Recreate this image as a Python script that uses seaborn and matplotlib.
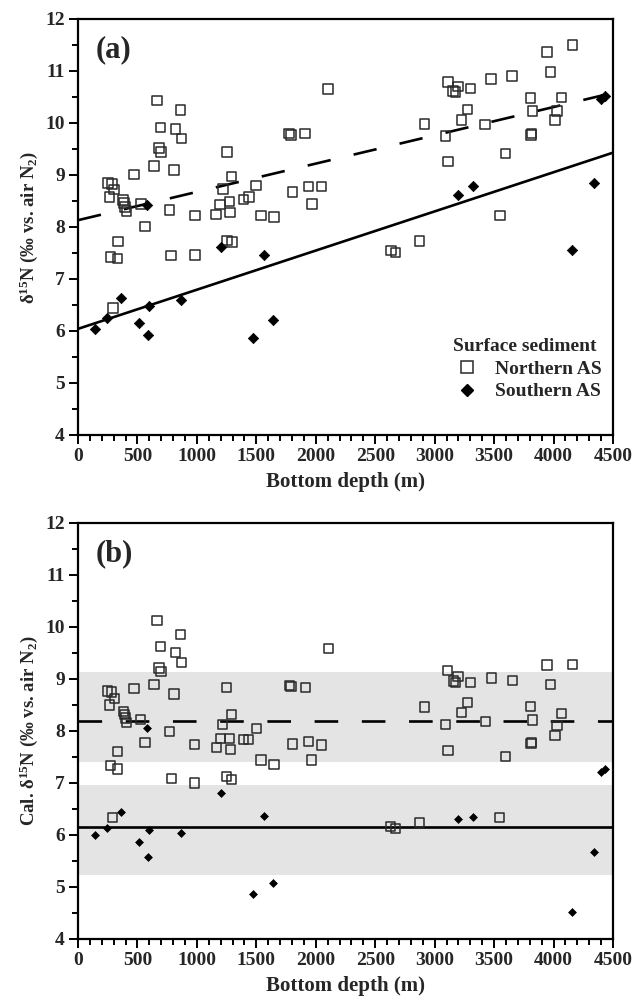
import matplotlib

matplotlib.use("Agg")

import matplotlib.pyplot as plt
import numpy as np
import pandas as pd
import seaborn as sns
from matplotlib.lines import Line2D
from matplotlib.ticker import MultipleLocator

# Northern Arabian Sea surface sediments: depth (m), d15N, calibrated d15N
north_depth = [665, 861, 693, 821, 872, 682, 699, 1252, 640, 807, 472, 1291, 251, 285,
               305, 265, 1218, 1500, 1436, 1391, 380, 389, 397, 408, 528, 771, 1196,
               1274, 1280, 1162, 983, 1540, 564, 335, 1252, 1294, 274, 332, 785, 983,
               293, 2104, 1777, 1791, 1911, 2914, 1805, 1939, 2048, 1967, 1648, 2632,
               2671, 2872, 4160, 3945, 3973, 3110, 3196, 3157, 3174, 3303, 3476, 3652,
               3805, 4067, 4029, 3822, 3277, 3227, 3425, 4012, 3090, 3811, 3815, 3113,
               3596, 3548]
north_d15n = [10.43, 10.25, 9.91, 9.88, 9.70, 9.52, 9.44, 9.44, 9.17, 9.09, 9.01, 8.97,
              8.84, 8.82, 8.72, 8.57, 8.73, 8.80, 8.57, 8.53, 8.52, 8.46, 8.38, 8.31,
              8.44, 8.33, 8.43, 8.49, 8.28, 8.24, 8.22, 8.22, 8.01, 7.72, 7.74, 7.71,
              7.42, 7.39, 7.45, 7.46, 6.44, 10.65, 9.80, 9.77, 9.80, 9.98, 8.67, 8.78,
              8.78, 8.44, 8.19, 7.55, 7.51, 7.73, 11.50, 11.36, 10.98, 10.79, 10.70,
              10.62, 10.59, 10.66, 10.84, 10.90, 10.48, 10.49, 10.23, 10.23, 10.26,
              10.06, 9.97, 10.06, 9.75, 9.77, 9.80, 9.26, 9.41, 8.22]
north_cal = [10.13, 9.85, 9.62, 9.51, 9.31, 9.21, 9.14, 8.83, 8.90, 8.71, 8.82, 8.31,
             8.77, 8.75, 8.63, 8.50, 8.13, 8.05, 7.84, 7.83, 8.37, 8.31, 8.25, 8.17,
             8.22, 7.99, 7.85, 7.86, 7.65, 7.68, 7.74, 7.44, 7.78, 7.60, 7.12, 7.06,
             7.33, 7.27, 7.09, 7.00, 6.33, 9.58, 8.88, 8.85, 8.83, 8.46, 7.75, 7.79,
             7.73, 7.44, 7.36, 6.17, 6.13, 6.24, 9.28, 9.27, 8.90, 9.17, 9.04, 8.96,
             8.93, 8.93, 9.02, 8.97, 8.47, 8.34, 8.10, 8.21, 8.54, 8.36, 8.18, 7.92,
             8.13, 7.76, 7.78, 7.63, 7.51, 6.34]

# Southern Arabian Sea surface sediments
south_depth = [579, 1204, 1562, 360, 598, 869, 240, 140, 511, 592, 1472, 1643, 3196,
               3322, 4342, 4155, 4400, 4430]
south_d15n = [8.42, 7.62, 7.46, 6.64, 6.48, 6.60, 6.24, 6.03, 6.16, 5.93, 5.87, 6.22,
              8.62, 8.78, 8.85, 7.55, 10.46, 10.52]
south_cal = [8.06, 6.80, 6.37, 6.45, 6.10, 6.03, 6.14, 6.00, 5.86, 5.57, 4.86, 5.07,
             6.30, 6.35, 5.68, 4.51, 7.22, 7.26]

# linear fits in (a): intercept, slope per metre
north_fit = (8.13, 0.000544)
south_fit = (6.04, 0.000753)

# means and +/- 1 sd bands in (b)
north_mean = 8.20
north_band = (7.40, 9.14)
south_mean = 6.15
south_band = (5.23, 6.97)

x_range = [0, 4500]

sns.set_theme(style="ticks")
plt.rcParams["font.family"] = ["Liberation Serif", "DejaVu Serif"]
plt.rcParams["font.weight"] = "bold"
plt.rcParams["mathtext.fontset"] = "custom"
plt.rcParams["mathtext.rm"] = "Liberation Serif:bold"
plt.rcParams["mathtext.it"] = "Liberation Serif:bold"
plt.rcParams["mathtext.bf"] = "Liberation Serif:bold"
plt.rcParams["lines.scale_dashes"] = False

north = pd.DataFrame({"depth": north_depth, "d15n": north_d15n, "cal": north_cal})
south = pd.DataFrame({"depth": south_depth, "d15n": south_d15n, "cal": south_cal})

fig = plt.figure(figsize=(6.36, 10.08), dpi=100)
ax1 = fig.add_axes([0.1226, 0.5685, 0.8412, 0.4127])
ax2 = fig.add_axes([0.1226, 0.0685, 0.8412, 0.4127])

DASH = (0, (17, 17))


def style_axes(ax, ylabel, tag):
    ax.set_xlim(0, 4500)
    ax.set_ylim(4, 12)
    ax.xaxis.set_major_locator(MultipleLocator(500))
    ax.xaxis.set_minor_locator(MultipleLocator(100))
    ax.yaxis.set_major_locator(MultipleLocator(1))
    ax.yaxis.set_minor_locator(MultipleLocator(0.5))
    ax.tick_params(axis="both", which="major", direction="out", length=6.5, width=1.4,
                   labelsize=14, pad=3, top=False, right=False, color="black")
    ax.tick_params(axis="both", which="minor", direction="out", length=4, width=1.4,
                   top=False, right=False, color="black")
    for lab in ax.get_xticklabels() + ax.get_yticklabels():
        lab.set_fontweight("bold")
    for sp in ax.spines.values():
        sp.set_visible(True)
        sp.set_linewidth(1.6)
        sp.set_color("black")
    ax.set_xlabel("Bottom depth (m)", fontsize=15, fontweight="bold", labelpad=5)
    ax.set_ylabel(ylabel, fontsize=13.5, fontweight="bold", labelpad=4)
    ax.text(0.033, 0.925, tag, transform=ax.transAxes, fontsize=22, fontweight="bold",
            ha="left", va="center")


# (a) raw d15N vs depth
sns.lineplot(x=x_range, y=[north_fit[0] + north_fit[1] * x for x in x_range], ax=ax1,
             color="black", linewidth=1.9, linestyle=DASH, zorder=2)
sns.lineplot(x=x_range, y=[south_fit[0] + south_fit[1] * x for x in x_range], ax=ax1,
             color="black", linewidth=1.9, zorder=2)
sns.scatterplot(data=north, x="depth", y="d15n", ax=ax1, marker="s", s=48,
                facecolor="none", edgecolor="#2a2a2a", linewidth=1.1, zorder=3)
sns.scatterplot(data=south, x="depth", y="d15n", ax=ax1, marker="D", s=28,
                color="black", edgecolor="black", linewidth=0.5, zorder=4)
style_axes(ax1, "δ$^{15}$N (‰ vs. air N$_2$)", "(a)")

handles = [
    Line2D([0], [0], marker="s", linestyle="none", markersize=8, markerfacecolor="none",
           markeredgecolor="#2a2a2a", markeredgewidth=1.1, label="Northern AS"),
    Line2D([0], [0], marker="D", linestyle="none", markersize=6, color="black",
           label="Southern AS"),
]
leg = ax1.legend(handles=handles, title="Surface sediment", loc="lower right",
                 bbox_to_anchor=(1.0, 0.055), frameon=False, fontsize=14,
                 title_fontsize=14, handletextpad=0.4, labelspacing=0.25,
                 borderaxespad=0.2)
leg.get_title().set_fontweight("bold")
for t in leg.get_texts():
    t.set_fontweight("bold")

# (b) calibrated d15N vs depth
ax2.axhspan(*north_band, color="#e4e4e4", zorder=0, linewidth=0)
ax2.axhspan(*south_band, color="#e4e4e4", zorder=0, linewidth=0)
sns.lineplot(x=x_range, y=[north_mean] * 2, ax=ax2, color="black", linewidth=1.9,
             linestyle=DASH, zorder=2)
sns.lineplot(x=x_range, y=[south_mean] * 2, ax=ax2, color="black", linewidth=1.9,
             zorder=2)
sns.scatterplot(data=north, x="depth", y="cal", ax=ax2, marker="s", s=44,
                facecolor="none", edgecolor="#2a2a2a", linewidth=1.1, zorder=3)
sns.scatterplot(data=south, x="depth", y="cal", ax=ax2, marker="D", s=16,
                color="black", edgecolor="black", linewidth=0.5, zorder=4)
style_axes(ax2, "Cal. δ$^{15}$N (‰ vs. air N$_2$)", "(b)")

fig.savefig("out.png", dpi=100, facecolor="white")
